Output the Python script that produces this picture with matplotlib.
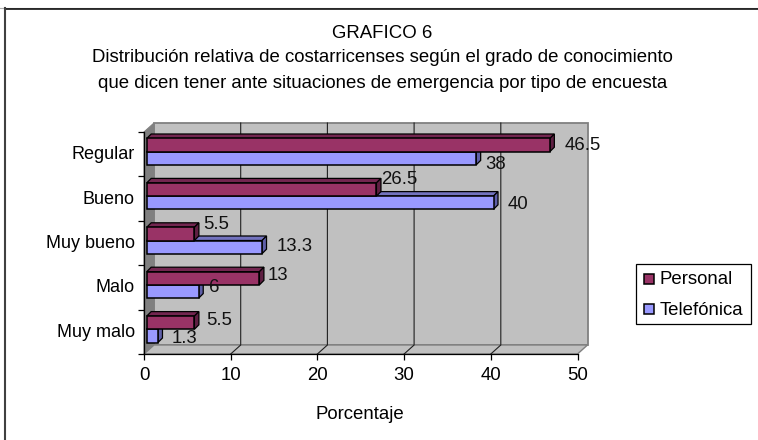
#!/usr/bin/env python3
# encoding=utf-8

import matplotlib
matplotlib.use('Agg')
import matplotlib.pyplot as plt
from matplotlib.lines import Line2D
from matplotlib.patches import Polygon, Rectangle

plt.rcParams['font.family'] = ['Liberation Sans', 'DejaVu Sans']

categorias = ['Muy malo', 'Malo', 'Muy bueno', 'Bueno', 'Regular']
personal = [5.5, 13, 5.5, 26.5, 46.5]
telefonica = [1.3, 6, 13.3, 40, 38]
xticks = [0, 10, 20, 30, 40, 50]

W, H = 758, 440
X0, X1, Y_TOP, Y_BOT = 144.0, 577.5, 132.0, 354.0
UX = (X1 - X0) / 50.0
UY = (Y_BOT - Y_TOP) / 5.0
# profundidad de la caja, en unidades de datos
DX, DY = 10.0 / UX, 9.0 / UY
# profundidad de cada barra
BDX, BDY = 4.5 / UX, 4.5 / UY
OFFX, OFFY = 2.7 / UX, 2.5 / UY
BAR_H = 13.2 / UY
FS = 13.4

# desplazamiento de las etiquetas de valor, en pixeles
off_personal = [(7, 2.5), (4, 2.5), (4, 9.5), (0, 10), (10.7, -0.5)]
off_telefonica = [(9.5, -2.5), (6, 4), (10, 0.5), (10, -1.5), (5, -6.5)]

fig = plt.figure(figsize=(W / 100, H / 100), dpi=100)
fig.patch.set_facecolor('white')
# borde del grafico: solo arriba e izquierda
fig.add_artist(Line2D([0, 1], [1 - 8.0 / H] * 2, color='#b0b0b0', lw=0.8, transform=fig.transFigure))
fig.add_artist(Line2D([5 / W, 1], [1 - 9.2 / H] * 2, color='black', lw=1.1, transform=fig.transFigure))
fig.add_artist(Line2D([5 / W, 5 / W], [0, 1 - 8.5 / H], color='#404040', lw=1.5, transform=fig.transFigure))

ax = fig.add_axes([X0 / W, 1 - Y_BOT / H, (X1 - X0) / W, (Y_BOT - Y_TOP) / H])
ax.set_xlim(0, 50)
ax.set_ylim(0, 5)
ax.patch.set_visible(False)
for s in ax.spines.values():
    s.set_visible(False)
ax.spines['left'].set_visible(True)
ax.spines['bottom'].set_visible(True)
ax.spines['left'].set_linewidth(0.9)
ax.spines['bottom'].set_linewidth(0.9)

GRIS = '#c0c0c0'
OSCURO = '#808080'
# pared del fondo, pared izquierda y piso
ax.add_patch(Polygon([(DX, DY), (50 + DX, DY), (50 + DX, 5 + DY), (DX, 5 + DY)],
                     fc=GRIS, ec=OSCURO, lw=1.3, clip_on=False, zorder=1))
ax.add_patch(Polygon([(0, 0), (DX, DY), (DX, 5 + DY), (0, 5)],
                     fc=OSCURO, ec=OSCURO, lw=0.8, clip_on=False, zorder=1))
ax.add_patch(Polygon([(0, 0), (50, 0), (50 + DX, DY), (DX, DY)],
                     fc=GRIS, ec=OSCURO, lw=1.0, clip_on=False, zorder=1))
for t in xticks[1:-1]:
    ax.plot([t, t + DX, t + DX], [0, DY, 5 + DY], color='#202020', lw=0.8, clip_on=False, zorder=2)


def barra(v, y0, front, top, side, zorder):
    x0 = OFFX
    x1 = OFFX + v
    y1 = y0 + BAR_H
    ax.add_patch(Polygon([(x0, y1), (x1, y1), (x1 + BDX, y1 + BDY), (x0 + BDX, y1 + BDY)],
                         fc=top, ec='black', lw=0.9, clip_on=False, zorder=zorder))
    ax.add_patch(Polygon([(x1, y0), (x1 + BDX, y0 + BDY), (x1 + BDX, y1 + BDY), (x1, y1)],
                         fc=side, ec='black', lw=0.9, clip_on=False, zorder=zorder))
    ax.add_patch(Polygon([(x0, y0), (x1, y0), (x1, y1), (x0, y1)],
                         fc=front, ec='black', lw=1.1, clip_on=False, zorder=zorder))


for i in range(len(categorias)):
    yc = i + 0.5 + OFFY
    z = 10 + 2 * (len(categorias) - i)
    barra(telefonica[i], yc - BAR_H, '#9999ff', '#7373bf', '#5f5fa8', z)
    barra(personal[i], yc, '#993366', '#732650', '#5e1f42', z + 1)
    ax.annotate(str(personal[i]), (personal[i] + OFFX + BDX, yc + BAR_H / 2),
                xytext=off_personal[i], textcoords='offset pixels', fontsize=FS, va='center',
                color='#111111', zorder=40, annotation_clip=False)
    ax.annotate(str(telefonica[i]), (telefonica[i] + OFFX + BDX, yc - BAR_H / 2),
                xytext=off_telefonica[i], textcoords='offset pixels', fontsize=FS, va='center',
                color='#111111', zorder=40, annotation_clip=False)

ax.set_xticks(xticks)
ax.set_yticks(range(6))
ax.set_yticklabels([])
ax.tick_params(axis='both', length=4, width=0.9, labelsize=FS, pad=5.5)
for i, c in enumerate(categorias):
    ax.annotate(c, (0, i + 0.5), xytext=(-9, -0.5), textcoords='offset pixels', ha='right',
                va='center', fontsize=13, annotation_clip=False)

fig.text(360 / W, 1 - 414 / H, 'Porcentaje', ha='center', va='center', fontsize=FS)
titulo = ['GRAFICO 6',
          'Distribución relativa de costarricenses según el grado de conocimiento',
          'que dicen tener ante situaciones de emergencia por tipo de encuesta']
for linea, y in zip(titulo, [34, 58, 84]):
    fig.text(382.5 / W, 1 - y / H, linea, ha='center', va='center', fontsize=FS)

# leyenda
fig.add_artist(Rectangle((635.5 / W, 1 - 323.5 / H), 115 / W, 60 / H, transform=fig.transFigure,
                         fc='white', ec='black', lw=0.9))
for nombre, color, y in zip(['Personal', 'Telefónica'], ['#993366', '#9999ff'], [279, 309]):
    fig.add_artist(Rectangle((643.5 / W, 1 - (y + 5) / H), 10 / W, 10 / H, transform=fig.transFigure,
                             fc=color, ec='black', lw=1.1))
    fig.text(659.5 / W, 1 - (y + 1) / H, nombre, ha='left', va='center', fontsize=FS)

fig.savefig('out.png', dpi=100)
